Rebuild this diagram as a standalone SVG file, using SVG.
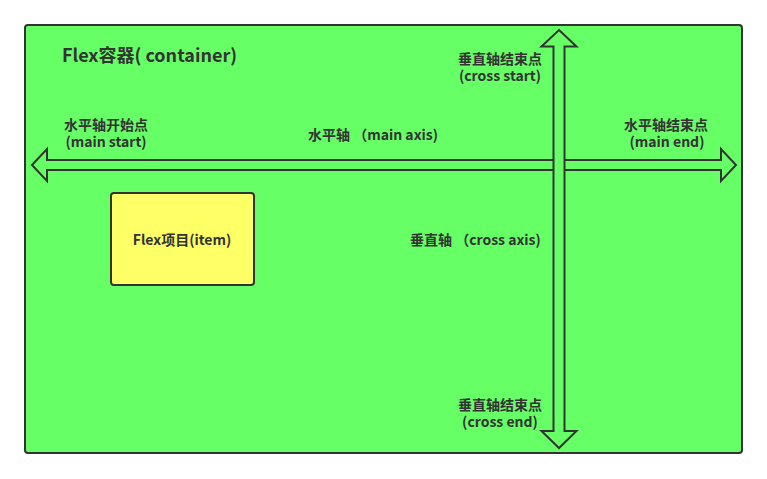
<svg xmlns="http://www.w3.org/2000/svg" width="767" height="479" viewBox="0 0 767 479">
<style>
text{font-family:"Microsoft YaHei","Noto Sans CJK SC","Noto Sans",sans-serif;font-weight:bold;fill:#333;font-size:14px}
.c{text-anchor:middle}
.box{stroke:#333;stroke-width:2}
.arrow{fill:#66ff66;stroke:#333;stroke-width:2;stroke-linejoin:miter}
</style>
<rect width="767" height="479" fill="#fff"/>
<g id="container">
<rect class="box" x="25" y="25" width="717" height="428" rx="3" fill="#66ff66"/>
<text x="62" y="62" style="font-size:18px">Flex容器( container)</text>
</g>
<g id="connectors">
<polygon class="arrow" points="32,165 47,149 47,160 721,160 721,149 736,165 721,181 721,170 47,170 47,181"/>
<polygon class="arrow" points="559,30 576.5,46.5 564.5,46.5 564.5,431 576.5,431 559,448 541.5,431 553.5,431 553.5,46.5 541.5,46.5"/>
</g>
<g id="item">
<rect class="box" x="111" y="193" width="143" height="92" rx="3" fill="#ffff66"/>
<text class="c" x="182" y="245">Flex项目(item)</text>
</g>
<g id="labels">
<text class="c" x="106" y="130">水平轴开始点</text>
<text class="c" x="106" y="147">(main start)</text>
<text class="c" x="666" y="130">水平轴结束点</text>
<text class="c" x="667" y="147">(main end)</text>
<text x="308" y="140">水平轴 （main axis)</text>
<text class="c" x="500" y="64">垂直轴结束点</text>
<text class="c" x="500" y="81">(cross start)</text>
<text x="410" y="245">垂直轴 （cross axis)</text>
<text class="c" x="500" y="410">垂直轴结束点</text>
<text class="c" x="500" y="427">(cross end)</text>
</g>
</svg>
